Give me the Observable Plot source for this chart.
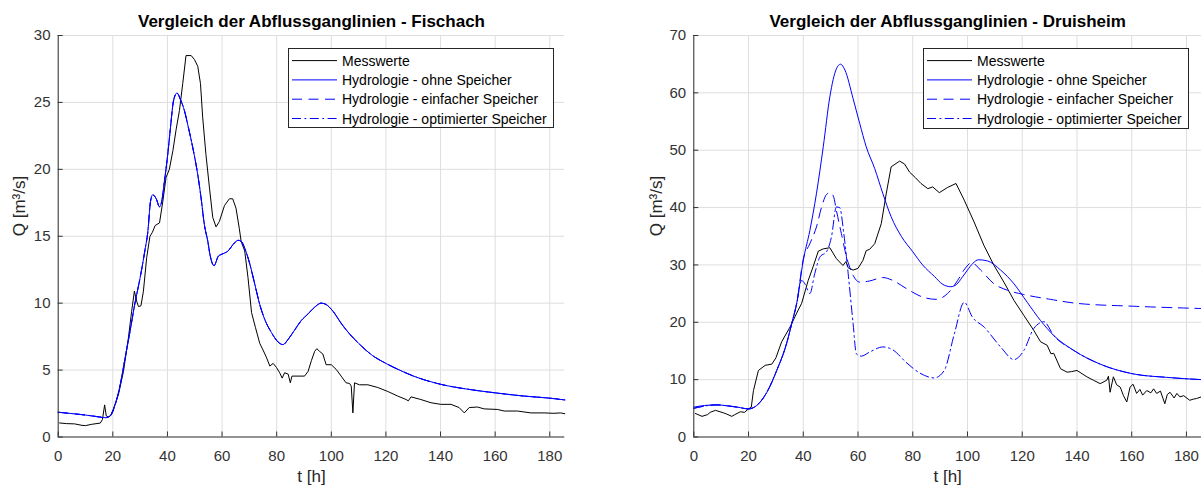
<!DOCTYPE html>
<html>
<head>
<meta charset="utf-8">
<script src="https://cdn.jsdelivr.net/npm/d3@7"></script>
<script src="https://cdn.jsdelivr.net/npm/@observablehq/plot@0.6"></script>
<style>
html, body { margin: 0; padding: 0; background: #fff; overflow: hidden; }
#wrap { position: relative; width: 1201px; height: 487px; overflow: hidden; font-family: "Liberation Sans", Arial, sans-serif; }
.chart { position: absolute; top: 0; }
.legend { position: absolute; }
</style>
</head>
<body>
<div id="wrap"></div>
<script>
// ---------- data ----------
const titleFischach = "Vergleich der Abflussganglinien - Fischach";
const titleDruisheim = "Vergleich der Abflussganglinien - Druisheim";
const xLabel = "t [h]";
const yLabel = "Q [m³/s]";
const seriesNames = ["Messwerte", "Hydrologie - ohne Speicher", "Hydrologie - einfacher Speicher", "Hydrologie - optimierter Speicher"];
const xTicks = [0, 20, 40, 60, 80, 100, 120, 140, 160, 180];
const yTicksFischach = [0, 5, 10, 15, 20, 25, 30];
const yTicksDruisheim = [0, 10, 20, 30, 40, 50, 60, 70];

// Fischach: [t, Q]
const fischachMesswerte = [[0.5,1.05],[3,1.0],[6,0.98],[8.7,0.87],[10,0.85],[12.3,0.95],[15.4,1.04],[16.2,1.3],[17,2.4],[17.6,1.57],[18.4,1.5],[19.2,1.6],[20.2,2.1],[22.1,3.2],[23.9,4.9],[25.7,7.4],[26.9,9.4],[27.9,10.9],[28.8,10.1],[29.4,9.75],[30.3,9.8],[31.2,10.9],[32.4,13.4],[33.6,15],[34.5,15.3],[35.5,15.8],[37.1,16],[38.3,17.6],[39.5,19.4],[40.7,20],[42,21.4],[43.2,23],[44.4,24.4],[45.6,26.4],[46.8,28.5],[48.7,28.5],[49.9,28.2],[51.1,27.7],[52.1,26.4],[52.9,23.9],[54.1,21.1],[55.4,18.6],[56.6,16.4],[57.8,15.7],[59,16.1],[60.9,17.3],[62.7,17.8],[63.9,17.8],[65.1,17.1],[66.3,15.6],[67,14.6],[68.3,13.9],[69.5,11.9],[70.8,9.3],[72.2,8.2],[73.8,7.0],[75,6.5],[76.2,5.97],[77.5,5.3],[78.7,5.5],[79.9,5.2],[81.1,4.8],[82,4.4],[82.9,4.8],[84.2,4.7],[85,4.05],[85.6,4.55],[90.2,4.55],[91.5,4.9],[92.7,5.7],[93.9,6.4],[94.7,6.6],[95.7,6.4],[96.9,6.2],[98.1,5.4],[100,5.4],[101.8,5.05],[103.6,4.55],[105.4,4.05],[106.7,4.0],[107.3,3.8],[107.9,1.8],[108.5,4.05],[110.3,3.9],[113.4,3.9],[117,3.7],[120.7,3.4],[124.3,3.06],[127.4,2.8],[128.2,2.7],[129.2,3.0],[132.8,2.8],[136.5,2.56],[140.1,2.44],[143.8,2.44],[146.8,2.2],[148.7,1.8],[150.5,2.2],[153.5,2.24],[156,2.1],[160.8,2.06],[163.3,1.94],[168.2,1.94],[173.1,1.8],[177.9,1.8],[181.5,1.77],[184,1.8],[185.5,1.74]];
const fischachOhne = [[0,1.85],[5,1.75],[10,1.64],[15,1.5],[17.2,1.44],[19,1.57],[20.9,2.44],[22.7,3.9],[24.5,5.9],[26.3,7.9],[28.1,10],[30,11.9],[31.8,14],[32.8,15.3],[33.8,17.6],[34.6,18.1],[35.9,17.8],[37.1,17.2],[37.9,17.6],[38.9,19.1],[40.1,21.1],[41.1,23.1],[42.3,25.2],[43.5,25.7],[44.8,25.2],[46.2,24.4],[47.7,23.1],[49.3,21.6],[51.1,19.6],[52.3,17.9],[53.5,15.9],[54.8,14.6],[55.6,13.6],[57.1,12.8],[58.6,13.5],[60.4,13.7],[62.2,13.9],[64.1,14.4],[65.9,14.7],[67.1,14.6],[68.3,14.1],[70.2,12.9],[72,11.4],[73.8,9.9],[75.6,8.8],[78.1,7.8],[80.5,7.1],[82.3,6.9],[84.2,7.3],[86.6,8.0],[89,8.7],[91.5,9.2],[93.9,9.7],[96.3,10.0],[98.1,9.9],[100.6,9.4],[103.6,8.5],[106.7,7.7],[110,7.0],[115,6.1],[120,5.5],[125,5.0],[130,4.56],[140,3.94],[150,3.57],[160,3.3],[170,3.07],[180,2.9],[185.5,2.77]];
const fischachEinfach = [[0,1.85],[5,1.75],[10,1.64],[15,1.5],[17.2,1.44],[19,1.57],[20.9,2.44],[22.7,3.9],[24.5,5.9],[26.3,7.9],[28.1,10],[30,11.9],[31.8,14],[32.8,15.3],[33.8,17.6],[34.6,18.1],[35.9,17.8],[37.1,17.2],[37.9,17.6],[38.9,19.1],[40.1,21.1],[41.1,23.1],[42.3,25.2],[43.5,25.7],[44.8,25.2],[46.2,24.4],[47.7,23.1],[49.3,21.6],[51.1,19.6],[52.3,17.9],[53.5,15.9],[54.8,14.6],[55.6,13.6],[57.1,12.8],[58.6,13.5],[60.4,13.7],[62.2,13.9],[64.1,14.4],[65.9,14.7],[67.1,14.6],[68.3,14.1],[70.2,12.9],[72,11.4],[73.8,9.9],[75.6,8.8],[78.1,7.8],[80.5,7.1],[82.3,6.9],[84.2,7.3],[86.6,8.0],[89,8.7],[91.5,9.2],[93.9,9.7],[96.3,10.0],[98.1,9.9],[100.6,9.4],[103.6,8.5],[106.7,7.7],[110,7.0],[115,6.1],[120,5.5],[125,5.0],[130,4.56],[140,3.94],[150,3.57],[160,3.3],[170,3.07],[180,2.9],[185.5,2.77]];
const fischachOptimiert = [[0,1.85],[5,1.75],[10,1.64],[15,1.5],[17.2,1.44],[19,1.57],[20.9,2.44],[22.7,3.9],[24.5,5.9],[26.3,7.9],[28.1,10],[30,11.9],[31.8,14],[32.8,15.3],[33.8,17.6],[34.6,18.1],[35.9,17.8],[37.1,17.2],[37.9,17.6],[38.9,19.1],[40.1,21.1],[41.1,23.1],[42.3,25.2],[43.5,25.7],[44.8,25.2],[46.2,24.4],[47.7,23.1],[49.3,21.6],[51.1,19.6],[52.3,17.9],[53.5,15.9],[54.8,14.6],[55.6,13.6],[57.1,12.8],[58.6,13.5],[60.4,13.7],[62.2,13.9],[64.1,14.4],[65.9,14.7],[67.1,14.6],[68.3,14.1],[70.2,12.9],[72,11.4],[73.8,9.9],[75.6,8.8],[78.1,7.8],[80.5,7.1],[82.3,6.9],[84.2,7.3],[86.6,8.0],[89,8.7],[91.5,9.2],[93.9,9.7],[96.3,10.0],[98.1,9.9],[100.6,9.4],[103.6,8.5],[106.7,7.7],[110,7.0],[115,6.1],[120,5.5],[125,5.0],[130,4.56],[140,3.94],[150,3.57],[160,3.3],[170,3.07],[180,2.9],[185.5,2.77]];

// Druisheim: [t, Q]
const druisheimMesswerte = [[0.6,4.1],[3,3.6],[5,3.9],[6,4.3],[7.9,4.65],[10.9,4.2],[12,4.0],[13.9,3.6],[15,3.9],[17,4.4],[18.5,4.3],[20,4.9],[21,5.2],[21.8,8.1],[23.6,11.6],[26.1,12.5],[28.5,12.7],[30,13.8],[32.1,16.6],[35.2,19.2],[37.6,21.6],[39.4,23.3],[41.8,27.3],[43.6,29.7],[45.5,32.4],[47.3,32.8],[49.7,33.0],[52.1,31.1],[54.5,29.9],[55.6,30.6],[56.4,29.5],[58.2,29.1],[60,29.4],[61.8,30.8],[63,32.5],[64.2,32.7],[66.1,33.7],[68.5,37.2],[70.3,42.4],[72.1,47.1],[75.2,48.1],[77,47.6],[78.8,46.2],[81,45.2],[83,44.2],[85.5,43.3],[87.3,43.6],[89.7,42.6],[92.7,43.5],[95.8,44.2],[98.8,41.3],[102.4,37.5],[106,33.4],[109.7,29.9],[113.3,27],[117,23.8],[120.6,21.2],[124.2,18.6],[126.7,16.6],[129.1,16],[130.5,14.5],[131.5,14.6],[134,11.9],[136.4,11.3],[138,11.4],[140,11.6],[143.6,10.5],[146,9.9],[148.5,9.3],[150.9,9.9],[151.5,10.6],[152.1,7.8],[153.3,10.5],[154.5,9.1],[155.8,8.7],[157,7.2],[158.2,6.1],[159.4,8.7],[160.5,9.2],[161.8,7.6],[163,8.3],[164,7.3],[165.5,8.1],[167,7.7],[168,8.4],[169.1,7.6],[170.5,8.0],[172.1,5.8],[173,7.4],[174,7.8],[175.5,6.8],[176.5,7.6],[177.6,7.0],[179,7.2],[181.2,6.4],[182.5,6.6],[183.6,6.7],[185.5,7.0]];
const druisheimOhne = [[0,5.2],[4,5.5],[8.5,5.6],[12,5.45],[16,5.2],[20,4.9],[23,5.5],[26.7,7.8],[30.3,11.6],[33.9,16.3],[35.8,19.8],[37.6,23.3],[40,30.8],[42.4,36],[44.8,42.4],[47.3,50.6],[49.7,59.3],[52.1,64.2],[53.6,65],[55.2,64],[58.2,59],[60.6,54.7],[63,50.6],[66.1,46.8],[69.1,42.4],[72.1,38.4],[75.8,35],[80,32.3],[83.6,30],[87.9,28],[91,26.6],[93.9,26.2],[96,26.6],[98,27.8],[100,29.1],[102,30.3],[104,30.9],[107.3,30.7],[112.1,29.1],[117,26.7],[121.8,23.5],[126.7,20.3],[131.5,17.7],[138.8,15.1],[148.5,12.7],[160.6,11.0],[172.7,10.4],[185.5,10.0]];
const druisheimEinfach = [[0,5.0],[4,5.4],[8.5,5.6],[12,5.45],[16,5.2],[20,4.9],[23,5.5],[26.7,7.8],[30.3,11.6],[33.9,16.3],[35.8,19.8],[37.6,23.3],[40,31],[42.4,33.7],[44.8,36.6],[46.7,40.1],[48.5,42.3],[49.8,42.6],[51,42],[52.1,39.5],[53.9,35.5],[55.8,31.4],[58.2,28.2],[60.6,27],[64.2,27.2],[69.1,27.8],[72.7,27.3],[77.6,25.9],[83.6,24.4],[88.5,24.0],[92.7,25],[96.4,27.3],[99,29.3],[101.5,30.4],[104.8,29.1],[109.7,26.7],[114.5,25.6],[120,24.9],[130.3,24],[140,23.3],[160.6,22.8],[185.5,22.4]];
const druisheimOptimiert = [[0,5.0],[4,5.4],[8.5,5.6],[12,5.45],[16,5.2],[20,4.9],[23,5.5],[26.7,7.8],[30.3,11.6],[33.9,16.3],[35.8,19.8],[37.6,23.3],[39.4,27.3],[40.6,26.7],[42.4,25],[44.2,28.5],[46.1,31.4],[48.5,32.3],[50.3,34.9],[52.1,40.1],[53.3,40],[54.8,35.5],[56.4,28.5],[58.2,19.8],[59.4,14.5],[61.2,14.1],[64.2,14.8],[69.1,15.7],[72.7,15.2],[77.6,13],[82.4,11.2],[87.9,10.3],[91.5,11.6],[95.2,18],[98.8,23.5],[101.8,20.9],[106,19.2],[112.1,15.7],[117,13.5],[120.6,15.1],[124.2,18.9],[127.9,20.1],[131.5,17.7],[138.8,15.1],[148.5,12.7],[160.6,11.0],[172.7,10.4],[185.5,10.0]];

// ---------- styles ----------
const FONT = "'Liberation Sans', Arial, sans-serif";
const styles = [
  {stroke: "#000000", dash: null, curve: "linear"},
  {stroke: "#0000ff", dash: null, curve: "monotone-x"},
  {stroke: "#0000ff", dash: "10,6.5", curve: "monotone-x"},
  {stroke: "#0000ff", dash: "9,3.5,1.8,3.5", curve: "monotone-x"}
];
const AXIS = "#262626";
const GRID = "#dedede";

function chart({series, yMax, yTicks, width, marginLeft, marginRight, title, yLabelDx}) {
  const lineMarks = series.map((data, i) => Plot.line(data, {
    x: d => d[0], y: d => d[1],
    stroke: styles[i].stroke, strokeWidth: 1,
    strokeDasharray: styles[i].dash, curve: styles[i].curve
  }));
  return Plot.plot({
    width, height: 487,
    marginTop: 35, marginBottom: 50.5, marginLeft, marginRight,
    style: {fontFamily: FONT, background: "transparent", overflow: "visible"},
    x: {domain: [0, 185.5]},
    y: {domain: [0, yMax]},
    marks: [
      Plot.gridX(xTicks.filter(d => d > 0), {stroke: GRID, strokeOpacity: 1}),
      Plot.gridY(yTicks.filter(d => d > 0), {stroke: GRID, strokeOpacity: 1}),
      ...lineMarks,
      Plot.ruleY([0], {stroke: AXIS}),
      Plot.ruleX([0], {stroke: AXIS}),
      Plot.axisX(xTicks, {tickSize: -5, tickPadding: 18, fontSize: 15, color: "#333", label: null}),
      Plot.axisY(yTicks, {tickSize: -5, tickPadding: 12.7, fontSize: 15, color: "#333", label: null}),
      Plot.text([title], {text: d => d, frameAnchor: "top", lineAnchor: "bottom", dy: -9, fontSize: 17, fontWeight: "bold", fill: "#000"}),
      Plot.text([xLabel], {text: d => d, frameAnchor: "bottom", lineAnchor: "bottom", dy: 44.5, fontSize: 17, fill: "#262626"}),
      Plot.text([yLabel], {text: d => d, frameAnchor: "left", rotate: -90, dx: yLabelDx, fontSize: 17, fill: "#262626"})
    ]
  });
}

function legend(container, left, top, w, h) {
  const svg = d3.select(container).append("svg")
    .attr("class", "legend")
    .style("left", left + "px").style("top", top + "px")
    .attr("width", w).attr("height", h);
  svg.append("rect").attr("x", 0.5).attr("y", 0.5).attr("width", w - 1).attr("height", h - 1)
    .attr("fill", "#fff").attr("stroke", AXIS).attr("stroke-width", 1);
  seriesNames.forEach((name, i) => {
    const cy = 12.6 + i * 19.3;
    svg.append("line").attr("x1", 4).attr("x2", 49).attr("y1", cy).attr("y2", cy)
      .attr("stroke", styles[i].stroke).attr("stroke-width", 1)
      .attr("stroke-dasharray", styles[i].dash);
    svg.append("text").attr("x", 54).attr("y", cy + 5).text(name)
      .attr("font-family", FONT).attr("font-size", 14).attr("fill", "#000");
  });
}

const wrap = document.getElementById("wrap");

const left = chart({
  series: [fischachMesswerte, fischachOhne, fischachEinfach, fischachOptimiert],
  yMax: 30, yTicks: yTicksFischach, width: 600, marginLeft: 57.7, marginRight: 35.7,
  title: titleFischach, yLabelDx: -38.7
});
left.classList.add("chart");
left.style.left = "0px";
wrap.appendChild(left);

const right = chart({
  series: [druisheimMesswerte, druisheimOhne, druisheimEinfach, druisheimOptimiert],
  yMax: 70, yTicks: yTicksDruisheim, width: 601, marginLeft: 93.3, marginRight: 0,
  title: titleDruisheim, yLabelDx: -37.5
});
right.classList.add("chart");
right.style.left = "600px";
wrap.appendChild(right);

legend(wrap, 288, 48, 266, 80);
legend(wrap, 923, 47.5, 266, 81);
</script>
</body>
</html>
